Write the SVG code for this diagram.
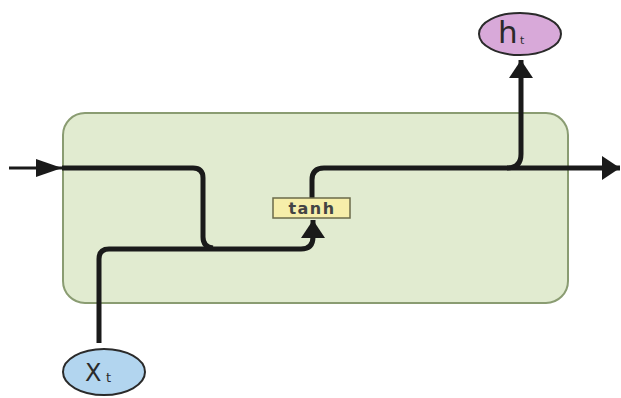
<svg xmlns="http://www.w3.org/2000/svg" width="621" height="398" viewBox="0 0 621 398">
<defs>
<style>
.flow{fill:none;stroke:#1a1a1a;stroke-width:5;stroke-linejoin:round}
.thin{fill:none;stroke:#1a1a1a;stroke-width:3}
.node{stroke:#2a2a2a;stroke-width:2}
.big{font-family:"DejaVu Sans","Liberation Sans",sans-serif;fill:#2a2a2a}
</style>
<marker id="ah" viewBox="0 0 18 24" refX="18" refY="12" markerWidth="18" markerHeight="24" orient="auto" markerUnits="userSpaceOnUse">
<path d="M0,0 L18,12 L0,24 z" fill="#1a1a1a"/>
</marker>
<marker id="ahl" viewBox="0 0 26 18" refX="26" refY="9" markerWidth="26" markerHeight="18" orient="auto" markerUnits="userSpaceOnUse">
<path d="M0,0 L26,9 L0,18 z" fill="#1a1a1a"/>
</marker>
</defs>
<rect width="621" height="398" fill="#ffffff"/>
<g id="cell">
<rect x="63" y="113" width="505" height="190" rx="22" ry="22" fill="#e1ebd0" stroke="#8a9c72" stroke-width="2"/>
</g>
<g id="connectors">
<path class="thin" d="M9,168 H62" marker-end="url(#ahl)"/>
<path class="flow" d="M62,168 H193 Q203,168 203,178 V237 Q203,247 213,248"/>
<path class="flow" d="M99,343 V259 Q99,249 109,249 H301 Q313,249 313,237 V220" marker-end="url(#ah)"/>
<path class="flow" d="M312,198 V180 Q312,168 324,168 H620" marker-end="url(#ah)"/>
<path class="flow" d="M507,168 Q521,168 521,154 V60" marker-end="url(#ah)"/>
</g>
<g id="tanh">
<rect x="273" y="198" width="77" height="20" fill="#f6eeaa" stroke="#6b6b4a" stroke-width="1.5"/>
<text x="312" y="214" text-anchor="middle" font-family="DejaVu Sans, sans-serif" font-size="16" font-weight="bold" letter-spacing="1.5" fill="#444444">tanh</text>
</g>
<g id="ht">
<ellipse class="node" cx="520" cy="34" rx="41" ry="21" fill="#d8a9d9"/>
<text class="big" x="498" y="43" font-size="31">h</text>
<text class="big" x="520" y="44" font-size="11">t</text>
</g>
<g id="xt">
<ellipse class="node" cx="104" cy="372" rx="41" ry="23" fill="#b2d5ef"/>
<text class="big" x="85" y="381" font-size="24">X</text>
<text class="big" x="106" y="382" font-size="13">t</text>
</g>
</svg>
